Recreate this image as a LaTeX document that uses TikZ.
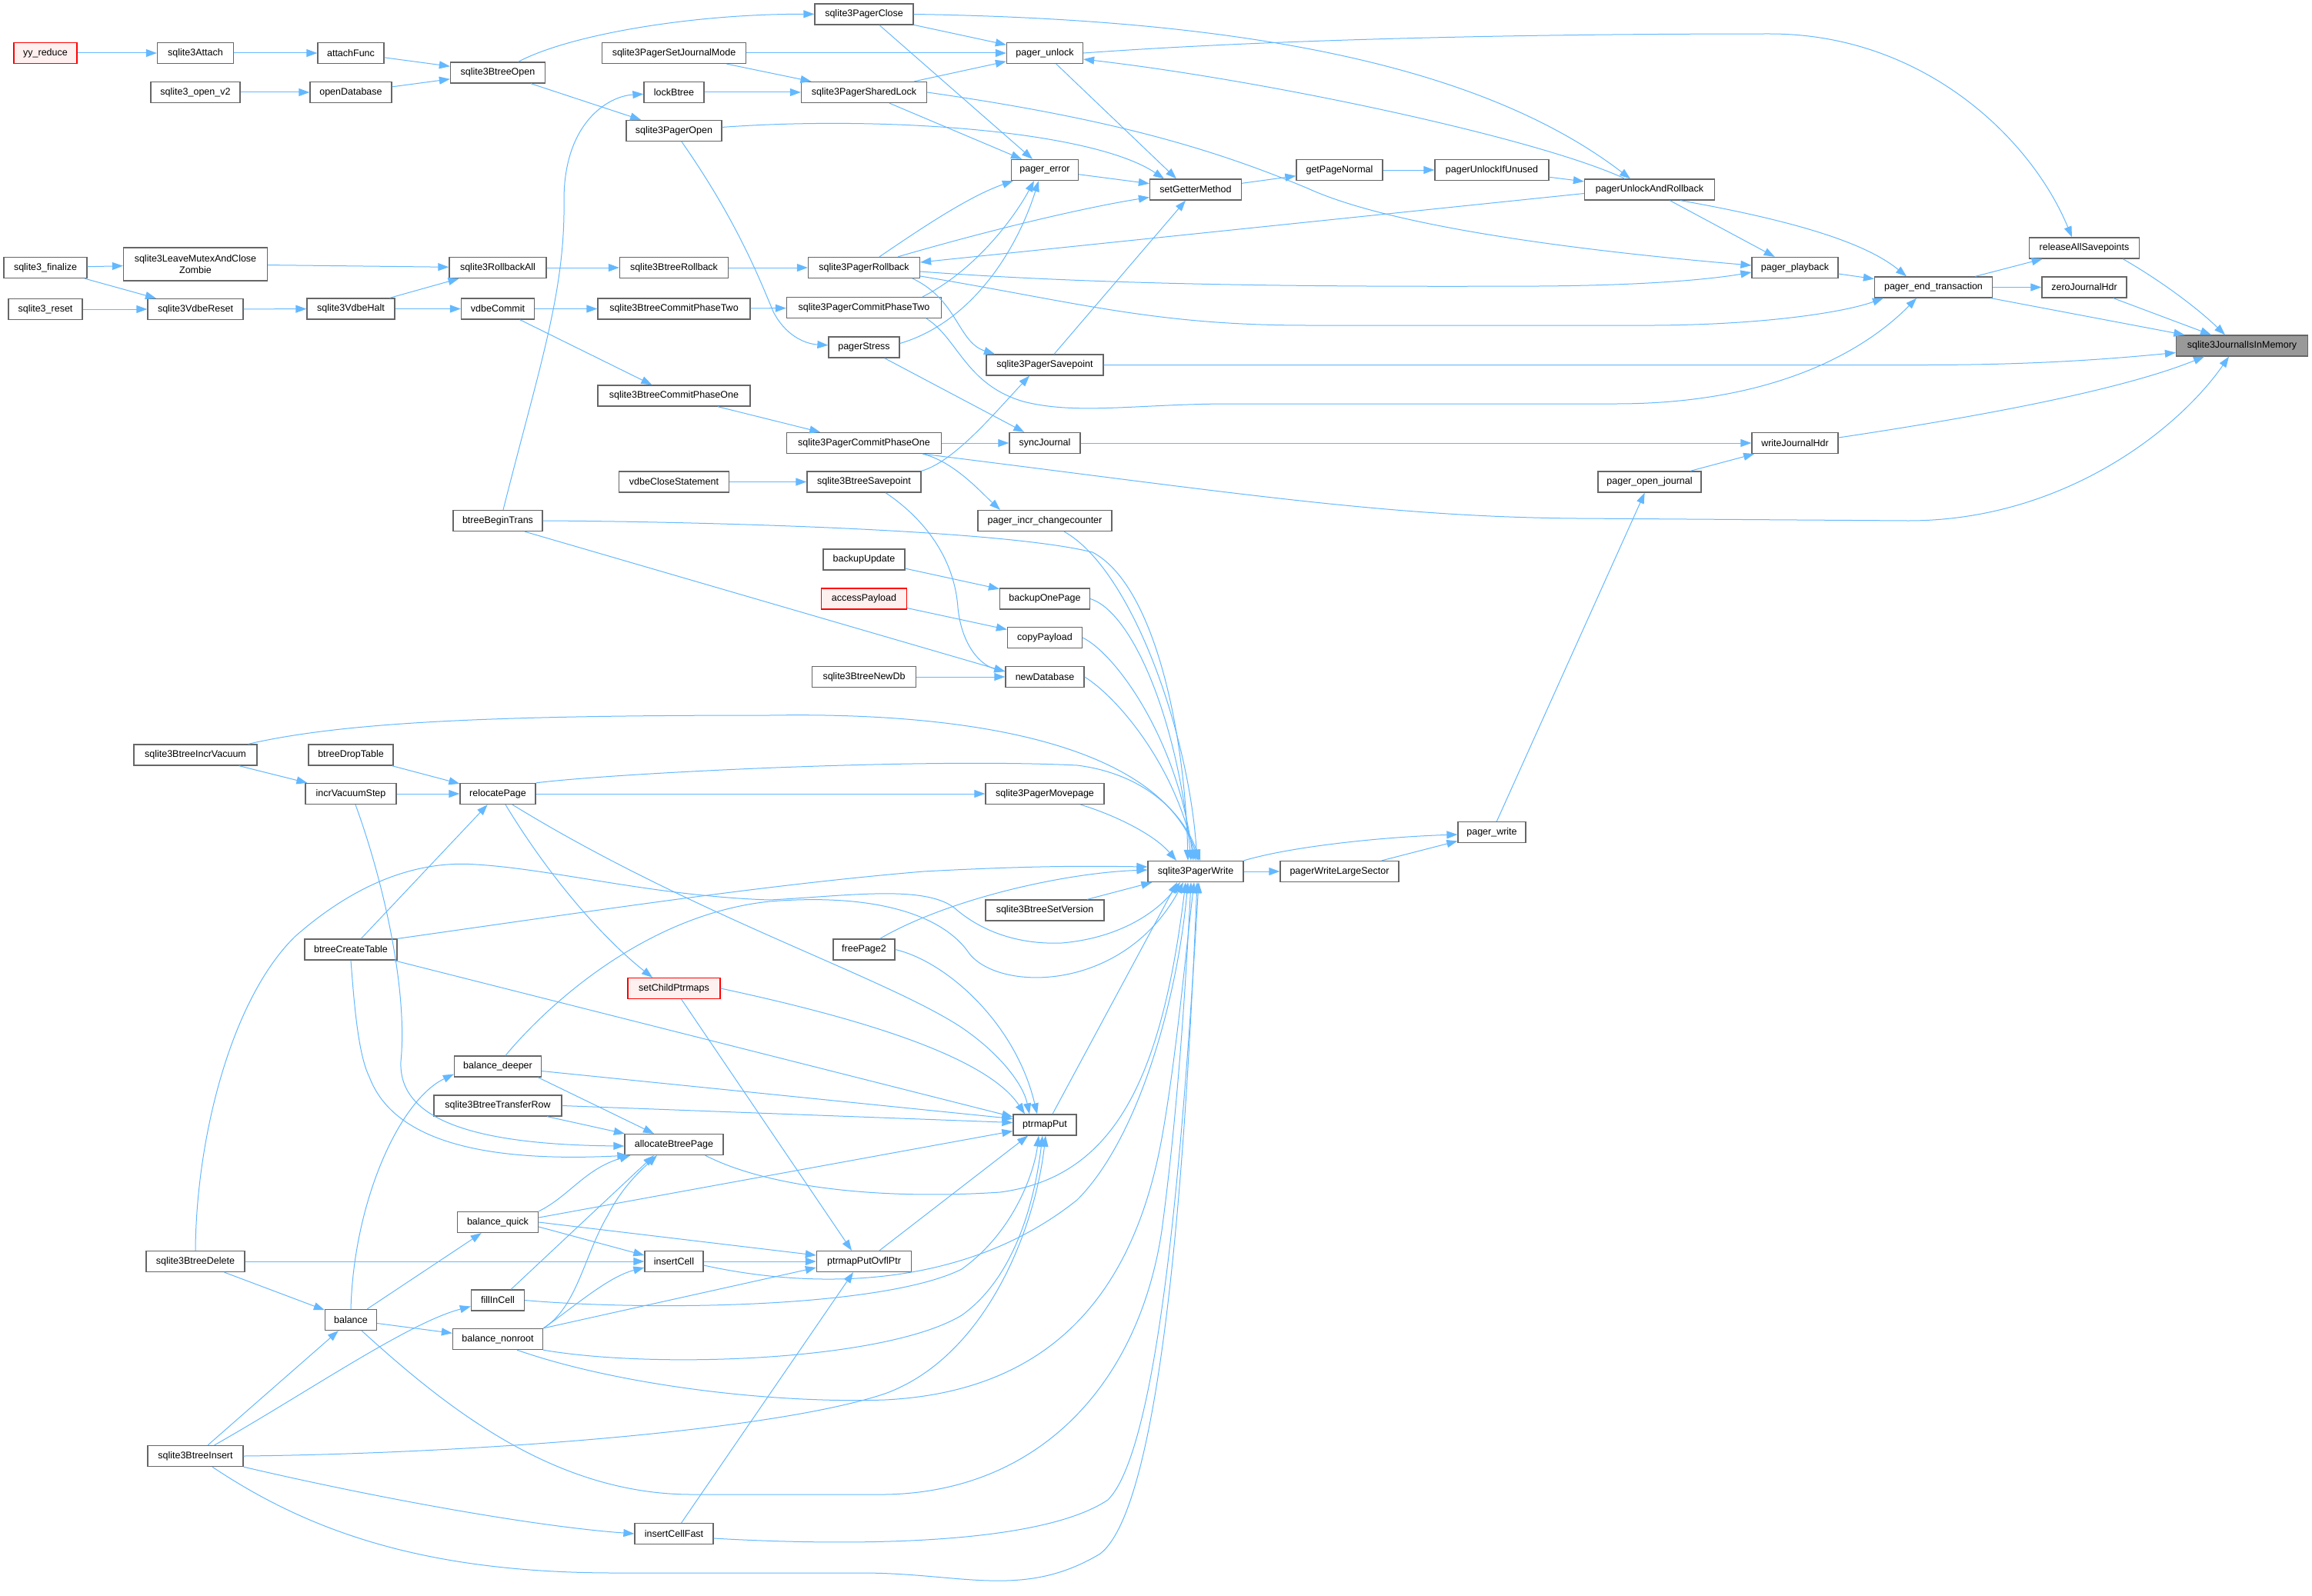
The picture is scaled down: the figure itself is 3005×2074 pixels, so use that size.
\documentclass[tikz,border=0pt]{standalone}
\usepackage{fontspec}
\setmainfont{Liberation Sans}
\usetikzlibrary{arrows.meta}
\definecolor{edgeblue}{HTML}{63B8FF}
\definecolor{nodeborder}{HTML}{666666}
\definecolor{redborder}{HTML}{FF0000}
\definecolor{redfill}{HTML}{FFF0F0}
\definecolor{rootfill}{HTML}{999999}
\tikzset{
  fn/.style={draw=nodeborder, line width=1.3pt, fill=white, minimum height=27pt, inner xsep=3pt, inner ysep=2pt, font=\fontsize{12.5pt}{15pt}\selectfont, text=black},
  redfn/.style={draw=redborder, fill=redfill},
  rootfn/.style={fill=rootfill},
  edge/.style={draw=edgeblue, line width=1pt, -{Triangle[length=14pt,width=10pt]}}
}
\begin{document}
\begin{tikzpicture}[x=1pt,y=-1pt]
\useasboundingbox (0,0) rectangle (3005,2074);
% ---------- nodes ----------
\node[fn, minimum width=82pt, redfn] (yy) at (59,69) {yy\_reduce};
\node[fn, minimum width=99pt] (attach) at (254,69) {sqlite3Attach};
\node[fn, minimum width=86pt] (attachF) at (456,69) {attachFunc};
\node[fn, minimum width=123pt] (bOpen) at (647,94.5) {sqlite3BtreeOpen};
\node[fn, minimum width=116pt] (openv2) at (254,120) {sqlite3\_open\_v2};
\node[fn, minimum width=106pt] (openDb) at (456,120) {openDatabase};
\node[fn, minimum width=187pt] (setJM) at (876,69) {sqlite3PagerSetJournalMode};
\node[fn, minimum width=78pt] (lockB) at (876,120) {lockBtree};
\node[fn, minimum width=124pt] (pOpen) at (876,170) {sqlite3PagerOpen};
\node[fn, minimum width=108pt] (fin) at (59,348) {sqlite3\_finalize};
\node[fn, minimum width=187pt, minimum height=43pt, align=center] (zombie) at (254,343.5) {sqlite3LeaveMutexAndClose\\Zombie};
\node[fn, minimum width=96pt] (reset) at (59,402) {sqlite3\_reset};
\node[fn, minimum width=124pt] (vReset) at (254,402) {sqlite3VdbeReset};
\node[fn, minimum width=114pt] (vHalt) at (456,401.5) {sqlite3VdbeHalt};
\node[fn, minimum width=126pt] (rbAll) at (647,348) {sqlite3RollbackAll};
\node[fn, minimum width=95pt] (vCommit) at (647,401.5) {vdbeCommit};
\node[fn, minimum width=141pt] (bRb) at (876,348) {sqlite3BtreeRollback};
\node[fn, minimum width=198pt] (bC2) at (876,401.5) {sqlite3BtreeCommitPhaseTwo};
\node[fn, minimum width=198pt] (bC1) at (876,514.5) {sqlite3BtreeCommitPhaseOne};
\node[fn, minimum width=143pt] (vClose) at (876,626.5) {vdbeCloseStatement};
\node[fn, minimum width=116pt] (bBegin) at (647,677) {btreeBeginTrans};
\node[fn, minimum width=128pt] (pClose) at (1123,18.5) {sqlite3PagerClose};
\node[fn, minimum width=99pt] (pUnlock) at (1358,69) {pager\_unlock};
\node[fn, minimum width=163pt] (pShared) at (1123,120) {sqlite3PagerSharedLock};
\node[fn, minimum width=87pt] (pErr) at (1358,221) {pager\_error};
\node[fn, minimum width=119pt] (setGM) at (1554,246.5) {setGetterMethod};
\node[fn, minimum width=112pt] (getPN) at (1741,221) {getPageNormal};
\node[fn, minimum width=148pt] (pUIU) at (1939,221) {pagerUnlockIfUnused};
\node[fn, minimum width=145pt] (pRb) at (1123,348) {sqlite3PagerRollback};
\node[fn, minimum width=201pt] (pC2) at (1123,400) {sqlite3PagerCommitPhaseTwo};
\node[fn, minimum width=92pt] (pStress) at (1123,451.5) {pagerStress};
\node[fn, minimum width=152pt] (pSave) at (1358,474.5) {sqlite3PagerSavepoint};
\node[fn, minimum width=201pt] (pC1) at (1123,576) {sqlite3PagerCommitPhaseOne};
\node[fn, minimum width=92pt] (syncJ) at (1358,576) {syncJournal};
\node[fn, minimum width=148pt] (bSave) at (1123,626.5) {sqlite3BtreeSavepoint};
\node[fn, minimum width=174pt] (pIncr) at (1358,677) {pager\_incr\_changecounter};
\node[fn, minimum width=169pt] (pUAR) at (2144,246.5) {pagerUnlockAndRollback};
\node[fn, minimum width=112pt] (pPlay) at (2333,348) {pager\_playback};
\node[fn, minimum width=153pt] (pEnd) at (2513,373.5) {pager\_end\_transaction};
\node[fn, minimum width=143pt] (relAll) at (2709,322.5) {releaseAllSavepoints};
\node[fn, minimum width=110pt] (zeroJ) at (2709,373.5) {zeroJournalHdr};
\node[fn, minimum width=171pt, rootfn] (J) at (2914,449.5) {sqlite3JournalIsInMemory};
\node[fn, minimum width=112pt] (wJH) at (2333,576) {writeJournalHdr};
\node[fn, minimum width=134pt] (pOJ) at (2144,626.5) {pager\_open\_journal};
\node[fn, minimum width=160pt] (incrVac) at (254,981.5) {sqlite3BtreeIncrVacuum};
\node[fn, minimum width=110pt] (bDrop) at (456,981.5) {btreeDropTable};
\node[fn, minimum width=118pt] (ivStep) at (456,1032) {incrVacuumStep};
\node[fn, minimum width=98pt] (reloc) at (647,1032) {relocatePage};
\node[fn, minimum width=120pt] (bCreate) at (456,1234.5) {btreeCreateTable};
\node[fn, minimum width=120pt, redfn] (setCP) at (876,1285) {setChildPtrmaps};
\node[fn, minimum width=113pt] (balDeep) at (647,1386.5) {balance\_deeper};
\node[fn, minimum width=106pt] (bkUpd) at (1123,727.5) {backupUpdate};
\node[fn, minimum width=111pt, redfn] (accPay) at (1123,778.5) {accessPayload};
\node[fn, minimum width=117pt] (bkOne) at (1358,778.5) {backupOnePage};
\node[fn, minimum width=97pt] (copyPay) at (1358,829) {copyPayload};
\node[fn, minimum width=135pt] (bNewDb) at (1123,880) {sqlite3BtreeNewDb};
\node[fn, minimum width=102pt] (newDb) at (1358,880) {newDatabase};
\node[fn, minimum width=154pt] (pMove) at (1358,1032) {sqlite3PagerMovepage};
\node[fn, minimum width=124pt] (pWrite) at (1554,1133) {sqlite3PagerWrite};
\node[fn, minimum width=154pt] (pWLS) at (1741,1133) {pagerWriteLargeSector};
\node[fn, minimum width=88pt] (pW) at (1939,1082) {pager\_write};
\node[fn, minimum width=154pt] (bSetVer) at (1358,1183.5) {sqlite3BtreeSetVersion};
\node[fn, minimum width=80pt] (free2) at (1123,1234.5) {freePage2};
\node[fn, minimum width=166pt] (xferRow) at (647,1437.5) {sqlite3BtreeTransferRow};
\node[fn, minimum width=105pt] (balQ) at (647,1589) {balance\_quick};
\node[fn, minimum width=128pt] (bDel) at (254,1640) {sqlite3BtreeDelete};
\node[fn, minimum width=69pt] (fillIn) at (647,1690.5) {fillInCell};
\node[fn, minimum width=67pt] (bal) at (456,1716) {balance};
\node[fn, minimum width=117pt] (balNR) at (647,1741) {balance\_nonroot};
\node[fn, minimum width=124pt] (bIns) at (254,1893) {sqlite3BtreeInsert};
\node[fn, minimum width=82pt] (ptrPut) at (1358,1462.5) {ptrmapPut};
\node[fn, minimum width=128pt] (allocBP) at (876,1488) {allocateBtreePage};
\node[fn, minimum width=76pt] (insCell) at (876,1640) {insertCell};
\node[fn, minimum width=123pt] (ptrOvfl) at (1123,1640) {ptrmapPutOvflPtr};
\node[fn, minimum width=102pt] (insFast) at (876,1994) {insertCellFast};
% ---------- edges: top left ----------
\draw[edge] (yy) -- (attach);
\draw[edge] (attach) -- (attachF);
\draw[edge] (attachF) -- (bOpen);
\draw[edge] (openv2) -- (openDb);
\draw[edge] (openDb) -- (bOpen);
\draw[edge] (bOpen) .. controls (740,45) and (900,18) .. (pClose);
\draw[edge] (bOpen) -- (pOpen);
\draw[edge] (setJM) -- (pUnlock);
\draw[edge] (setJM) -- (pShared);
\draw[edge] (lockB) -- (pShared);
\draw[edge] ([xshift=7pt]bBegin.north) .. controls (700,480) and (735,380) .. (733,260) .. controls (733,160) and (790,125) .. (lockB);
\draw[edge] (pOpen) .. controls (1150,150) and (1420,170) .. ([xshift=-41pt]setGM.north);
\draw[edge] (pOpen) .. controls (960,290) and (990,370) .. (1005,405) .. controls (1020,435) and (1045,447) .. (pStress);
\draw[edge] (fin) -- (zombie);
\draw[edge] (fin) -- (vReset);
\draw[edge] (reset) -- (vReset);
\draw[edge] (vReset) -- (vHalt);
\draw[edge] (zombie) -- (rbAll);
\draw[edge] (vHalt) -- (rbAll);
\draw[edge] (vHalt) -- (vCommit);
\draw[edge] (rbAll) -- (bRb);
\draw[edge] (vCommit) -- (bC2);
\draw[edge] (vCommit) -- (bC1);
\draw[edge] (bRb) -- (pRb);
\draw[edge] (bC2) -- (pC2);
\draw[edge] (bC1) -- (pC1);
\draw[edge] (vClose) -- (bSave);
% ---------- edges: pager group ----------
\draw[edge] (pClose) -- (pUnlock);
\draw[edge] ([xshift=20pt]pClose.south) -- ([xshift=-16pt]pErr.north);
\draw[edge] (pShared) -- (pUnlock);
\draw[edge] ([xshift=33pt]pShared.south) -- ([xshift=-30pt]pErr.north);
\draw[edge] (pUnlock) -- ([xshift=-25pt]setGM.north);
\draw[edge] (pErr) -- (setGM);
\draw[edge] (setGM) -- (getPN);
\draw[edge] (getPN) -- (pUIU);
\draw[edge] (pUIU) -- (pUAR);
\draw[edge] (pUnlock.east) .. controls (1600,55) and (1900,44) .. (2300,44) .. controls (2500,44) and (2640,180) .. ([xshift=-16pt]relAll.north);
\draw[edge] (pClose.east) .. controls (1600,25) and (1920,80) .. ([xshift=-25pt]pUAR.north);
\draw[edge] ([xshift=-32pt]pUAR.north) .. controls (2000,180) and (1650,105) .. ([yshift=-8pt]pUnlock.east);
\draw[edge] ([yshift=-5pt]pUAR.west) -- ([yshift=7pt]pRb.east);
\draw[edge] (pUAR) -- (pPlay);
\draw[edge] ([xshift=40pt]pUAR.south) .. controls (2350,290) and (2430,320) .. ([xshift=-35pt]pEnd.north);
\draw[edge] (pShared.east) .. controls (1450,155) and (1580,195) .. (1700,245) .. controls (1820,300) and (2100,330) .. ([yshift=3pt]pPlay.west);
\draw[edge] ([yshift=-5pt]pRb.east) .. controls (1450,372) and (1750,373) .. (2000,372) .. controls (2150,371) and (2230,362) .. ([yshift=-6pt]pPlay.west);
\draw[edge] (pPlay) -- (pEnd);
\draw[edge] ([yshift=-11pt]pRb.east) .. controls (1400,393) and (1500,423) .. (1700,423) -- (2150,423) .. controls (2300,422) and (2400,405) .. ([xshift=12pt]pEnd.south west);
\draw[edge] ([xshift=-20pt]pC2.south east) .. controls (1245,440) and (1255,500) .. (1330,522) .. controls (1400,540) and (1480,525) .. (1600,525) -- (2100,525) .. controls (2300,525) and (2420,460) .. ([xshift=-22pt]pEnd.south);
\draw[edge] (pEnd) -- (relAll);
\draw[edge] (pEnd) -- (zeroJ);
\draw[edge] (pEnd) -- (J);
\draw[edge] ([xshift=-22pt]relAll.south east) .. controls (2800,360) and (2850,395) .. ([xshift=-22pt]J.north);
\draw[edge] (zeroJ) -- ([xshift=-40pt]J.north);
\draw[edge] (pSave.east) -- (2500,474.5) .. controls (2650,474.5) and (2750,466) .. ([yshift=-9pt]J.west);
\draw[edge] (pSave) -- ([xshift=-13pt]setGM.south);
\draw[edge] ([xshift=-10pt]pRb.south east) .. controls (1245,390) and (1245,445) .. ([xshift=-65pt]pSave.north);
\draw[edge] ([xshift=20pt]pRb.north) .. controls (1200,295) and (1260,255) .. ([xshift=3pt]pErr.south west);
\draw[edge] ([xshift=44pt]pRb.north) .. controls (1300,295) and (1420,268) .. ([yshift=-10pt]setGM.west);
\draw[edge] ([xshift=-25pt]pC2.north east) .. controls (1270,350) and (1320,280) .. ([xshift=-14pt]pErr.south);
\draw[edge] ([yshift=5pt]pStress.east) .. controls (1260,420) and (1320,330) .. ([xshift=-8pt]pErr.south);
\draw[edge] (pStress) -- (syncJ);
\draw[edge] (pC1) -- (syncJ);
\draw[edge] ([xshift=-25pt]pC1.south east) .. controls (1240,600) and (1275,640) .. ([xshift=-58pt]pIncr.north);
\draw[edge] ([xshift=-25pt]pC1.south east) .. controls (1600,640) and (1800,672) .. (2050,674) -- (2480,677) .. controls (2680,677) and (2830,560) .. ([xshift=-17pt]J.south);
\draw[edge] (syncJ) -- (wJH);
\draw[edge] ([yshift=7pt]wJH.east) .. controls (2550,545) and (2750,510) .. ([xshift=-49pt]J.south);
\draw[edge] (pOJ) -- (wJH);
\draw[edge] (pW) -- (pOJ);
\draw[edge] (bSave.north east) .. controls (1240,600) and (1290,540) .. ([xshift=-20pt]pSave.south);
\draw[edge] ([xshift=28pt]bSave.south) .. controls (1195,670) and (1240,720) .. (1245,790) .. controls (1250,840) and (1275,865) .. ([yshift=7pt]newDb.west);
% ---------- edges: into sqlite3PagerWrite from above ----------
\draw[edge] (bBegin.east) .. controls (900,678) and (1300,688) .. (1420,718) .. controls (1500,760) and (1540,950) .. ([xshift=-10pt]pWrite.north);
\draw[edge] ([xshift=35pt]bBegin.south) -- ([yshift=7pt]newDb.west);
\draw[edge] (bNewDb) -- (newDb);
\draw[edge] (bkUpd) -- (bkOne);
\draw[edge] (accPay) -- (copyPay);
\draw[edge] (bkOne.east) .. controls (1470,795) and (1530,930) .. ([xshift=-6pt]pWrite.north);
\draw[edge] (copyPay.east) .. controls (1450,850) and (1530,960) .. ([xshift=-3pt]pWrite.north);
\draw[edge] (newDb.east) .. controls (1450,905) and (1525,990) .. ([xshift=0pt]pWrite.north);
\draw[edge] (pIncr) .. controls (1470,740) and (1545,950) .. ([xshift=2pt]pWrite.north);
\draw[edge] ([xshift=-12pt]incrVac.north east) .. controls (450,938) and (650,930) .. (1000,930) .. controls (1300,925) and (1510,980) .. ([xshift=4pt]pWrite.north);
\draw[edge] (reloc.north east) .. controls (800,1005) and (1200,985) .. (1400,995) .. controls (1480,1005) and (1535,1050) .. ([xshift=6pt]pWrite.north);
\draw[edge] (reloc) -- (pMove);
\draw[edge] (pMove) .. controls (1450,1060) and (1500,1085) .. ([xshift=-25pt]pWrite.north);
\draw[edge] (pWrite) -- (pWLS);
\draw[edge] (pWrite.north east) .. controls (1680,1100) and (1800,1088) .. ([yshift=-3pt]pW.west);
\draw[edge] (pWLS) -- (pW);
% ---------- edges: lower left ----------
\draw[edge] (incrVac) -- (ivStep);
\draw[edge] (bDrop) -- (reloc);
\draw[edge] (ivStep) -- (reloc);
\draw[edge] ([xshift=6pt]ivStep.south) .. controls (500,1150) and (530,1290) .. (521,1380) .. controls (518,1450) and (600,1488) .. ([yshift=-2pt]allocBP.west);
\draw[edge] (bCreate) -- (reloc);
\draw[edge] (bCreate.north east) .. controls (800,1180) and (1000,1150) .. (1200,1133) .. controls (1350,1125) and (1420,1126) .. ([yshift=6pt]pWrite.west);
\draw[edge] (bCreate) -- (ptrPut);
\draw[edge] (bCreate.south) .. controls (460,1300) and (465,1370) .. (480,1400) .. controls (510,1480) and (620,1512) .. ([xshift=5pt]allocBP.south west);
\draw[edge] ([xshift=10pt]reloc.south) .. controls (720,1150) and (790,1225) .. ([xshift=-28pt]setCP.north);
\draw[edge] ([xshift=19pt]reloc.south) .. controls (900,1190) and (1150,1270) .. (1250,1336) .. controls (1300,1370) and (1330,1410) .. ([xshift=-20pt]ptrPut.north);
\draw[edge] (setCP.east) .. controls (1100,1320) and (1280,1370) .. ([xshift=-26pt]ptrPut.north);
\draw[edge] (setCP) -- ([xshift=-16pt]ptrOvfl.north);
\draw[edge] ([xshift=-20pt]free2.north east) .. controls (1230,1170) and (1380,1135) .. ([yshift=2pt]pWrite.west);
\draw[edge] (free2.east) .. controls (1230,1250) and (1320,1330) .. ([xshift=-10pt]ptrPut.north);
\draw[edge] ([xshift=55pt]bSetVer.north) -- ([xshift=6pt]pWrite.south west);
\draw[edge] ([xshift=10pt]ptrPut.north) -- ([xshift=-24pt]pWrite.south);
\draw[edge] (bDel.north) .. controls (255,1480) and (300,1300) .. (383,1218) .. controls (460,1150) and (540,1118) .. (619,1124) .. controls (720,1130) and (850,1165) .. (1000,1170) .. controls (1100,1165) and (1200,1150) .. (1240,1180) .. controls (1280,1215) and (1330,1228) .. (1380,1226) .. controls (1450,1220) and (1500,1190) .. ([xshift=-20pt]pWrite.south);
\draw[edge] ([xshift=10pt]balDeep.north) .. controls (700,1320) and (830,1190) .. (1000,1172) .. controls (1150,1160) and (1230,1195) .. (1260,1240) .. controls (1300,1290) and (1460,1290) .. ([xshift=-16pt]pWrite.south);
\draw[edge] ([xshift=-5pt]balDeep.south east) -- ([xshift=-26pt]allocBP.north);
\draw[edge] ([yshift=-6pt]balDeep.east) -- ([yshift=8pt]ptrPut.west);
\draw[edge] (xferRow.east) -- ([yshift=3pt]ptrPut.west);
\draw[edge] (xferRow) -- (allocBP);
\draw[edge] (balQ.north east) .. controls (740,1555) and (760,1520) .. ([xshift=8pt]allocBP.south west);
\draw[edge] ([yshift=6pt]balQ.east) -- ([yshift=-8pt]ptrPut.west);
\draw[edge] (balQ.east) -- ([yshift=8pt]ptrOvfl.west);
\draw[edge] ([yshift=-6pt]balQ.east) -- ([yshift=8pt]insCell.west);
\draw[edge] (bDel) -- (insCell);
\draw[edge] (bDel) -- (bal);
\draw[edge] (bal.north) .. controls (460,1560) and (520,1430) .. ([yshift=-10pt]balDeep.west);
\draw[edge] (bal) -- (balQ);
\draw[edge] (bal) -- (balNR);
\draw[edge] ([xshift=-20pt]bal.south east) .. controls (580,1830) and (720,1943) .. (900,1943) -- (1150,1943) .. controls (1350,1940) and (1480,1800) .. (1510,1600) .. controls (1530,1450) and (1540,1300) .. ([xshift=-6pt]pWrite.south);
\draw[edge] ([xshift=-18pt]fillIn.north east) -- ([xshift=-26pt]allocBP.south);
\draw[edge] (fillIn.east) .. controls (850,1705) and (1150,1700) .. (1250,1650) .. controls (1320,1600) and (1345,1520) .. ([xshift=-8pt]ptrPut.south);
\draw[edge] (balNR.north east) .. controls (750,1700) and (760,1630) .. (790,1580) .. controls (810,1540) and (840,1515) .. ([xshift=-22pt]allocBP.south);
\draw[edge] (balNR.north east) .. controls (745,1700) and (790,1660) .. ([yshift=-8pt]insCell.west);
\draw[edge] (balNR.north east) -- ([yshift=-8pt]ptrOvfl.west);
\draw[edge] (balNR.south east) .. controls (850,1780) and (1150,1770) .. (1250,1710) .. controls (1320,1660) and (1345,1560) .. ([xshift=-3pt]ptrPut.south);
\draw[edge] ([xshift=25pt]balNR.south) .. controls (800,1800) and (1000,1825) .. (1150,1820) .. controls (1350,1810) and (1470,1700) .. (1510,1480) .. controls (1528,1380) and (1540,1250) .. ([xshift=-2pt]pWrite.south);
\draw[edge] (insCell) -- (ptrOvfl);
\draw[edge] ([yshift=-5pt]insCell.east) .. controls (1050,1675) and (1250,1680) .. (1400,1560) .. controls (1480,1480) and (1530,1300) .. ([xshift=-10pt]pWrite.south);
\draw[edge] ([xshift=-24pt]allocBP.south east) .. controls (1000,1545) and (1150,1560) .. (1300,1550) .. controls (1450,1530) and (1510,1400) .. ([xshift=-13pt]pWrite.south);
\draw[edge] ([xshift=20pt]ptrOvfl.north) -- ([xshift=-22pt]ptrPut.south);
\draw[edge] (bIns) -- (bal);
\draw[edge] ([xshift=-38pt]bIns.north east) .. controls (400,1810) and (530,1720) .. ([yshift=-8pt]fillIn.west);
\draw[edge] (bIns.south east) .. controls (500,1950) and (700,1985) .. (insFast.west);
\draw[edge] ([xshift=22pt]bIns.south) .. controls (400,1990) and (550,2045) .. (800,2045) -- (1120,2045) .. controls (1250,2045) and (1330,2080) .. (1430,2020) .. controls (1520,1950) and (1545,1400) .. ([xshift=2pt]pWrite.south);
\draw[edge] (bIns.east) .. controls (600,1890) and (1000,1862) .. (1150,1812) .. controls (1280,1765) and (1345,1600) .. ([xshift=1pt]ptrPut.south);
\draw[edge] (insFast) -- ([xshift=-14pt]ptrOvfl.south);
\draw[edge] ([yshift=-6pt]insFast.east) .. controls (1100,2010) and (1350,2010) .. (1440,1950) .. controls (1510,1880) and (1540,1450) .. ([xshift=4pt]pWrite.south);
\end{tikzpicture}
\end{document}
